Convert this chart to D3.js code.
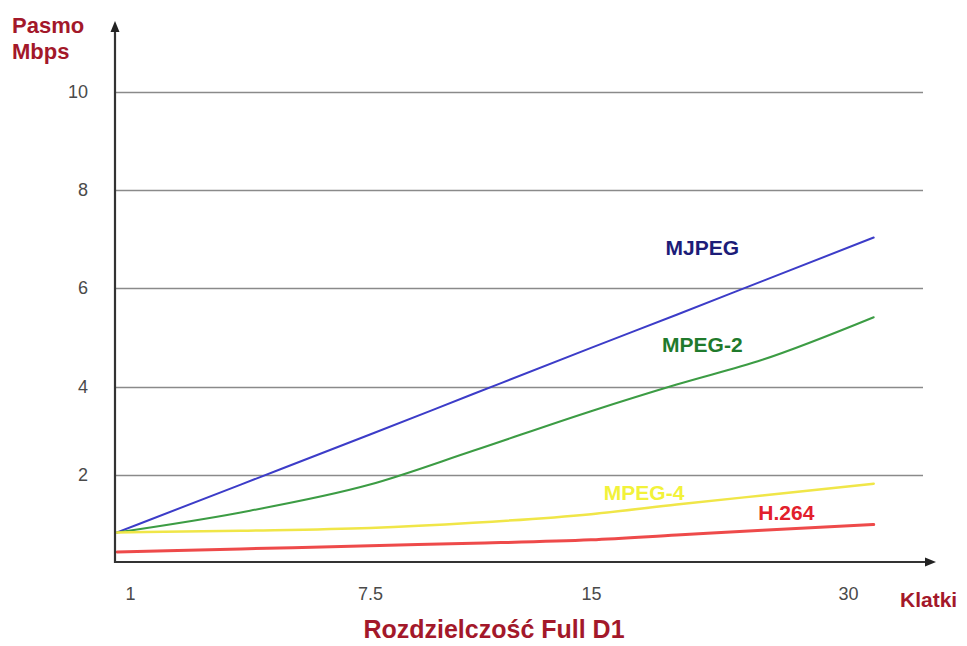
<!DOCTYPE html>
<html>
<head>
<meta charset="utf-8">
<script src="https://cdn.jsdelivr.net/npm/d3@7"></script>
<style>
  html, body { margin: 0; padding: 0; background: #ffffff; }
  svg { display: block; }
</style>
</head>
<body>
<svg id="chart" width="967" height="646"></svg>
<script>
// ---- data ----
const frames = [0.65, 4, 7.5, 11, 15, 20, 25, 31.5];
const mjpeg  = [0.68, 1.78, 2.92, 3.84, 4.79, 5.46, 6.14, 7.03];
const mpeg2  = [0.68, 1.14, 1.78, 2.55, 3.45, 4.05, 4.55, 5.41];
const mpeg4  = [0.68, 0.72, 0.78, 0.90, 1.10, 1.32, 1.53, 1.80];
const h264   = [0.23, 0.30, 0.375, 0.43, 0.51, 0.62, 0.73, 0.86];
const seriesNames = ["MJPEG", "MPEG-2", "MPEG-4", "H.264"];
const xTicks = [1, 7.5, 15, 30];
const yTicks = [2, 4, 6, 8, 10];
// label anchors in data units (frames, Mbps)
const labelFrames = [21.5, 21.5, 18.1, 26.4];
const labelValues = [6.67, 4.71, 1.42, 0.96];

// ---- layout ----
const svg = d3.select("#chart");
const x0 = 115, yBase = 562, xEnd = 923;
const x = d3.scaleLinear().domain([1, 7.5, 15, 30]).range([130, 370, 591, 848]);
const y = d3.scaleLinear().domain([0, 2, 4, 6, 8, 10]).range([yBase, 475, 387, 288, 190, 92]);

const colors = ["#3c3cc8", "#3c9c44", "#f0e648", "#ee4a4a"];
const labelColors = ["#1c1c78", "#1f7a2c", "#f2f23a", "#e2202c"];
const widths = [2, 2, 2.5, 3];
const values = [mjpeg, mpeg2, mpeg4, h264];

// gridlines + y labels
const yAxis = d3.axisLeft(y).tickValues(yTicks).tickSize(-(xEnd - x0)).tickPadding(27)
  .tickFormat(d => String(d));
const gy = svg.append("g").attr("transform", `translate(${x0},0)`).call(yAxis);
gy.select(".domain").remove();
gy.selectAll(".tick line").attr("stroke", "#8a8a8a").attr("stroke-width", 1.6);
gy.selectAll(".tick text").attr("fill", "#4a4a4a")
  .style("font-family", "'Liberation Sans', Arial, sans-serif").style("font-size", "18px");

// x labels
const xAxis = d3.axisBottom(x).tickValues(xTicks).tickSize(0).tickPadding(25)
  .tickFormat(d => String(d));
const gx = svg.append("g").attr("transform", `translate(0,${yBase})`).call(xAxis);
gx.select(".domain").remove();
gx.selectAll(".tick text").attr("fill", "#4a4a4a")
  .style("font-family", "'Liberation Sans Narrow', 'Liberation Sans', Arial, sans-serif").style("font-size", "18px");

// lines
const line = d3.line().x(d => x(d[0])).y(d => y(d[1])).curve(d3.curveMonotoneX);
values.forEach((vals, i) => {
  const pts = frames.map((f, j) => [f, vals[j]]);
  svg.append("path").attr("d", line(pts)).attr("fill", "none")
    .attr("stroke", colors[i]).attr("stroke-width", widths[i])
    .attr("stroke-linejoin", "round").attr("stroke-linecap", "round");
});

// axes with arrows
svg.append("line").attr("x1", x0).attr("y1", yBase + 1).attr("x2", x0).attr("y2", 30)
  .attr("stroke", "#333").attr("stroke-width", 2.2);
svg.append("path").attr("d", `M${x0},21 L${x0 - 4.5},32 L${x0 + 4.5},32 Z`).attr("fill", "#222");
svg.append("line").attr("x1", x0 - 1).attr("y1", yBase).attr("x2", 927).attr("y2", yBase)
  .attr("stroke", "#333").attr("stroke-width", 2.2);
svg.append("path").attr("d", `M936,${yBase} L925,${yBase - 4.5} L925,${yBase + 4.5} Z`).attr("fill", "#222");

// series labels
seriesNames.forEach((name, i) => {
  svg.append("text").attr("x", x(labelFrames[i])).attr("y", y(labelValues[i]))
    .attr("text-anchor", "middle").attr("fill", labelColors[i])
    .style("font-family", "'Liberation Sans', Arial, sans-serif")
    .style("font-weight", "bold").style("font-size", "21px").text(name);
});

// axis titles
const titleFont = "'Liberation Sans', Arial, sans-serif";
svg.append("text").attr("x", 12).attr("y", 33).attr("fill", "#a3182a")
  .style("font-family", titleFont).style("font-weight", "bold").style("font-size", "22px").text("Pasmo");
svg.append("text").attr("x", 12).attr("y", 59).attr("fill", "#a3182a")
  .style("font-family", titleFont).style("font-weight", "bold").style("font-size", "22px").text("Mbps");
svg.append("text").attr("x", 900).attr("y", 607).attr("fill", "#a3182a")
  .style("font-family", titleFont).style("font-weight", "bold").style("font-size", "21px").text("Klatki");
svg.append("text").attr("x", 494).attr("y", 638).attr("text-anchor", "middle").attr("fill", "#a3182a")
  .style("font-family", titleFont).style("font-weight", "bold").style("font-size", "25px").text("Rozdzielczość Full D1");
</script>
</body>
</html>
